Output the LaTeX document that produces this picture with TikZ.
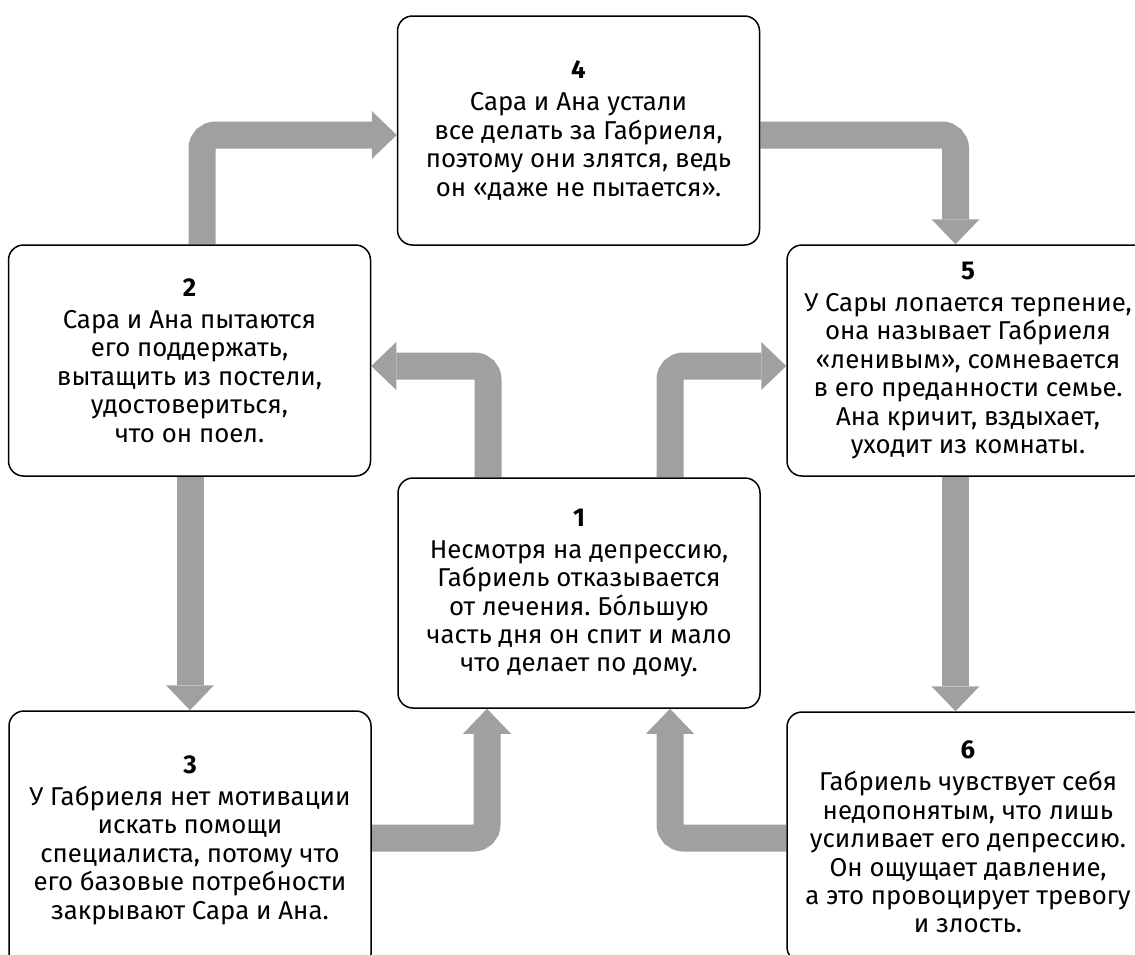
\documentclass[tikz,border=0pt]{standalone}
\usepackage{fontspec}
\setmainfont{Fira Sans}
\usetikzlibrary{arrows.meta,backgrounds}
\definecolor{arrowgray}{RGB}{160,160,160}
\frenchspacing
\begin{document}
\begin{tikzpicture}[x=1pt,y=-1pt,
  box/.style={draw=black, line width=1.5pt, rounded corners=15pt, align=center,
    inner sep=0pt, minimum width=362pt, font=\fontsize{25.8}{28.4}\selectfont},
  conn/.style={draw=arrowgray, line width=27pt, rounded corners=13.5pt,
    -{Triangle[length=25pt,width=48pt,line width=0pt]}}]
\useasboundingbox (0,0) rectangle (1135,954);
\clip (0,0) rectangle (1135,954);

\node[box, minimum height=229pt] (b4) at (578.5,130.5)
  {\textbf{4}\\[3.7pt]Сара и Ана устали\\все делать за Габриеля,\\поэтому они злятся, ведь\\он «даже не пытается».};
\node[box, minimum height=231pt] (b2) at (189.5,360.5)
  {\textbf{2}\\[3.7pt]Сара и Ана пытаются\\его поддержать,\\вытащить из постели,\\удостовериться,\\что он поел.};
\node[box, minimum height=231pt] (b5) at (968,360.5)
  {\textbf{5}\\[3.7pt]У Сары лопается терпение,\\она называет Габриеля\\«ленивым», сомневается\\в его преданности семье.\\Ана кричит, вздыхает,\\уходит из комнаты.};
\node[box, minimum height=230pt] (b1) at (579,593)
  {\textbf{1}\\[3.7pt]Несмотря на депрессию,\\Габриель отказывается\\от лечения. Бо́льшую\\часть дня он спит и мало\\что делает по дому.};
\node[box, minimum height=258pt] (b3) at (190,840)
  {\textbf{3}\\[3.7pt]У Габриеля нет мотивации\\искать помощи\\специалиста, потому что\\его базовые потребности\\закрывают Сара и Ана.};
\node[box, minimum height=250pt] (b6) at (968,837)
  {\textbf{6}\\[3.7pt]Габриель чувствует себя\\недопонятым, что лишь\\усиливает его депрессию.\\Он ощущает давление,\\а это провоцирует тревогу\\и злость.};

\begin{scope}[on background layer]
\draw[conn] (202,0 |- b2.north) |- (b4.west |- 0,135);
\draw[conn] (b4.east |- 0,135) -| (955.5,0 |- b5.north);
\draw[conn] (488,0 |- b1.north) |- (b2.east |- 0,366);
\draw[conn] (670,0 |- b1.north) |- (b5.west |- 0,366);
\draw[conn] (190,0 |- b2.south) -- (190,0 |- b3.north);
\draw[conn] (955.5,0 |- b5.south) -- (955.5,0 |- b6.north);
\draw[conn] (b3.east |- 0,838) -| (487,0 |- b1.south);
\draw[conn] (b6.west |- 0,838) -| (670,0 |- b1.south);
\end{scope}
\end{tikzpicture}
\end{document}
